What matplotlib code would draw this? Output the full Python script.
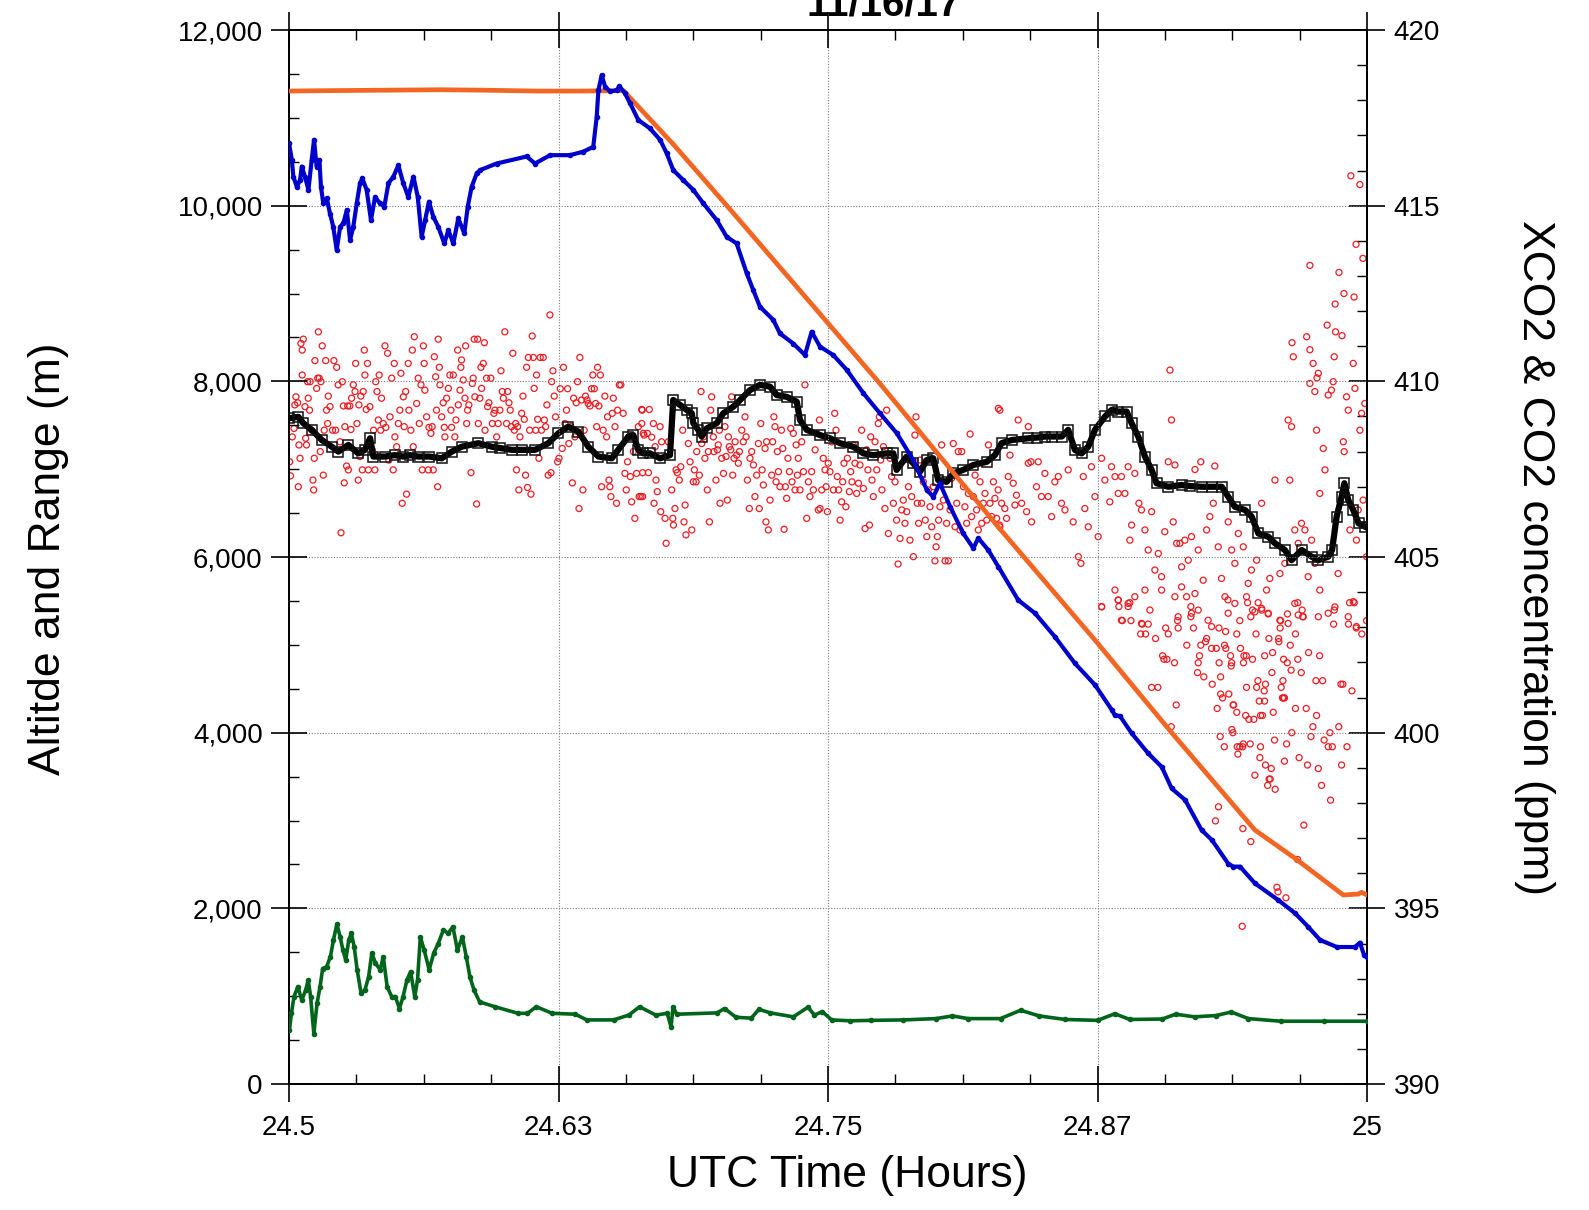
import matplotlib
matplotlib.use("Agg")
import matplotlib.pyplot as plt
from matplotlib.ticker import MultipleLocator, FuncFormatter

plt.rcParams['font.family'] = ['Liberation Sans', 'DejaVu Sans']

# aircraft altitude (orange), m
alt_t = [24.5, 24.52, 24.545, 24.57, 24.59, 24.615, 24.635, 24.6551, 24.6782, 24.7045,
         24.774, 24.8282, 24.8738, 24.9094, 24.948, 24.9666, 24.989, 24.9959, 24.9975, 25.0]
alt_m = [11305, 11310, 11315, 11320, 11315, 11305, 11305, 11310, 10700, 9960,
         7977, 6364, 5055, 4000, 2892, 2570, 2152, 2163, 2183, 2152]

# blue series, m
range_t = [24.5000, 24.5013, 24.5020, 24.5036, 24.5051, 24.5059, 24.5074, 24.5090, 24.5105, 24.5116,
           24.5128, 24.5141, 24.5148, 24.5159, 24.5175, 24.5190, 24.5205, 24.5221, 24.5237, 24.5252,
           24.5268, 24.5283, 24.5298, 24.5314, 24.5329, 24.5340, 24.5360, 24.5380, 24.5399, 24.5422,
           24.5442, 24.5461, 24.5484, 24.5507, 24.5530, 24.5553, 24.5577, 24.5597, 24.5615, 24.5631,
           24.5649, 24.5669, 24.5692, 24.5720, 24.5739, 24.5762, 24.5785, 24.5813, 24.5829, 24.5847,
           24.5871, 24.5886, 24.5963, 24.6102, 24.6141, 24.6211, 24.6303, 24.6365, 24.6411, 24.6427,
           24.6435, 24.6450, 24.6466, 24.6489, 24.6520, 24.6532, 24.6558, 24.6582, 24.6620, 24.6674,
           24.6721, 24.6752, 24.6782, 24.6829, 24.6875, 24.6922, 24.6984, 24.7030, 24.7076, 24.7123,
           24.7153, 24.7184, 24.7246, 24.7277, 24.7339, 24.7393, 24.7424, 24.7463, 24.7524, 24.7587,
           24.7664, 24.7741, 24.7819, 24.7895, 24.7958, 24.7988, 24.8019, 24.8066, 24.8127, 24.8174,
           24.8197, 24.8243, 24.8290, 24.8382, 24.8460, 24.8553, 24.8645, 24.8738, 24.8816, 24.8830,
           24.8854, 24.8908, 24.8985, 24.9048, 24.9094, 24.9156, 24.9233, 24.9280, 24.9356, 24.9380,
           24.9411, 24.9480, 24.9588, 24.9666, 24.9727, 24.9782, 24.9860, 24.9944, 24.9967, 24.9986,
           25.0000]
range_m = [10710, 10520, 10330, 10215, 10290, 10445, 10330, 10180, 10520, 10750,
           10445, 10520, 10215, 10025, 10085, 9910, 9760, 9495, 9760, 9800,
           9950, 9610, 9760, 10025, 10255, 10310, 10180, 9835, 10100, 10025,
           9990, 10255, 10330, 10460, 10255, 10100, 10330, 10100, 9645, 9835,
           10045, 9875, 9760, 9570, 9720, 9570, 9855, 9685, 9990, 10215,
           10370, 10405, 10480, 10560, 10480, 10575, 10575, 10615, 10670, 11010,
           11315, 11485, 11355, 11300, 11315, 11360, 11280, 11165, 10975, 10880,
           10750, 10595, 10405, 10290, 10180, 10025, 9835, 9645, 9570, 9230,
           9040, 8850, 8700, 8545, 8430, 8300, 8565, 8395, 8300, 8130,
           7865, 7635, 7410, 7105, 6765, 6685, 6840, 6575, 6270, 6100,
           6215, 6080, 5890, 5510, 5360, 5090, 4790, 4545, 4260, 4200,
           4190, 3995, 3765, 3610, 3365, 3235, 2890, 2780, 2510, 2475,
           2475, 2285, 2095, 1945, 1790, 1640, 1560, 1560, 1610, 1470,
           1445]

# green series, m
gnd_t = [24.5002, 24.5011, 24.5023, 24.5041, 24.5059, 24.5077, 24.5089, 24.5100, 24.5115, 24.5130,
         24.5144, 24.5156, 24.5174, 24.5192, 24.5206, 24.5222, 24.5237, 24.5250, 24.5263, 24.5277,
         24.5289, 24.5302, 24.5316, 24.5334, 24.5352, 24.5369, 24.5384, 24.5401, 24.5423, 24.5437,
         24.5455, 24.5476, 24.5493, 24.5512, 24.5529, 24.5547, 24.5564, 24.5583, 24.5596, 24.5609,
         24.5627, 24.5650, 24.5671, 24.5692, 24.5716, 24.5738, 24.5760, 24.5781, 24.5804, 24.5822,
         24.5839, 24.5858, 24.5884, 24.5955, 24.6062, 24.6106, 24.6147, 24.6221, 24.6328, 24.6381,
         24.6505, 24.6576, 24.6626, 24.6701, 24.6754, 24.6772, 24.6781, 24.6798, 24.6985, 24.7020,
         24.7073, 24.7144, 24.7179, 24.7233, 24.7339, 24.7407, 24.7437, 24.7473, 24.7517, 24.7602,
         24.770, 24.785, 24.800, 24.8077, 24.815, 24.830, 24.8393, 24.848, 24.860, 24.875,
         24.883, 24.890, 24.905, 24.9112, 24.920, 24.930, 24.937, 24.945, 24.960, 24.980,
         25.0]
gnd_m = [615, 805, 995, 1110, 955, 1070, 1185, 995, 575, 920,
         1110, 1315, 1335, 1450, 1640, 1820, 1675, 1525, 1410, 1640,
         1715, 1565, 1300, 1035, 1070, 1220, 1490, 1375, 1300, 1450,
         1110, 995, 995, 860, 995, 1185, 1280, 995, 1185, 1675,
         1525, 1300, 1490, 1600, 1755, 1715, 1790, 1525, 1675, 1450,
         1220, 1070, 935, 880, 805, 805, 880, 805, 795, 730,
         730, 785, 880, 785, 805, 650, 880, 795, 810, 860,
         760, 750, 850, 810, 765, 875, 785, 825, 730, 720,
         725, 730, 745, 775, 745, 745, 840, 775, 735, 725,
         800, 735, 740, 795, 765, 780, 820, 745, 715, 715,
         715]

# CO2 (black squares), ppm
co2_t = [24.5000, 24.5043, 24.5066, 24.5105, 24.5152, 24.5198, 24.5229, 24.5275, 24.5321, 24.5352,
         24.5376, 24.5391, 24.5445, 24.5490, 24.5530, 24.5560, 24.5600, 24.5650, 24.5708, 24.5755,
         24.5801, 24.5878, 24.5940, 24.5980, 24.6033, 24.6080, 24.6141, 24.6203, 24.6249, 24.6295,
         24.6342, 24.6388, 24.6435, 24.6497, 24.6527, 24.6574, 24.6597, 24.6620, 24.6643, 24.6674,
         24.6721, 24.6767, 24.6782, 24.6813, 24.6844, 24.6868, 24.6875, 24.6898, 24.6914, 24.6937,
         24.6984, 24.7014, 24.7061, 24.7092, 24.7138, 24.7184, 24.7231, 24.7262, 24.7308, 24.7355,
         24.7370, 24.7401, 24.7463, 24.7509, 24.7555, 24.7617, 24.7664, 24.7710, 24.7772, 24.7803,
         24.7818, 24.7865, 24.7895, 24.7927, 24.7958, 24.7988, 24.8011, 24.8050, 24.8081, 24.8127,
         24.8174, 24.8236, 24.8274, 24.8305, 24.8352, 24.8429, 24.8470, 24.8506, 24.8540, 24.8584,
         24.8614, 24.8645, 24.8676, 24.8707, 24.8738, 24.8785, 24.8816, 24.8846, 24.8885, 24.8908,
         24.8939, 24.8970, 24.9001, 24.9024, 24.9078, 24.9140, 24.9180, 24.9233, 24.9280, 24.9326,
         24.9356, 24.9387, 24.9434, 24.9465, 24.9496, 24.9542, 24.9573, 24.9619, 24.9650, 24.9697,
         24.9743, 24.9774, 24.9820, 24.9838, 24.9859, 24.9882, 24.9895, 24.9913, 24.9936, 24.9961,
         24.9992]
co2_ppm = [408.95, 408.99, 408.81, 408.62, 408.33, 408.14, 408.00, 408.19, 407.95, 408.05,
           408.38, 407.86, 407.86, 407.90, 407.86, 407.90, 407.86, 407.86, 407.81, 408.00,
           408.14, 408.24, 408.14, 408.10, 408.05, 408.05, 408.05, 408.24, 408.52, 408.71,
           408.57, 408.14, 407.86, 407.81, 408.05, 408.43, 408.47, 408.05, 407.95, 407.95,
           407.81, 407.90, 409.47, 409.33, 409.19, 409.09, 408.81, 408.62, 408.43, 408.66,
           408.81, 409.09, 409.28, 409.47, 409.75, 409.90, 409.85, 409.61, 409.56, 409.42,
           408.90, 408.62, 408.47, 408.38, 408.24, 408.14, 407.95, 407.90, 407.95, 407.95,
           407.48, 407.86, 407.67, 407.43, 407.76, 407.81, 407.19, 407.14, 407.38, 407.48,
           407.62, 407.71, 407.90, 408.24, 408.33, 408.38, 408.40, 408.43, 408.43, 408.43,
           408.62, 408.05, 407.95, 408.14, 408.62, 409.00, 409.19, 409.14, 409.14, 408.81,
           408.43, 407.86, 407.48, 407.10, 407.00, 407.05, 407.02, 407.00, 407.00, 407.00,
           406.72, 406.43, 406.34, 406.15, 405.67, 405.58, 405.39, 405.20, 404.91, 405.20,
           405.01, 404.91, 405.01, 405.20, 406.15, 406.72, 407.10, 406.62, 406.34, 405.96,
           405.86]

# XCO2 (red circles), ppm, read in four time blocks
xco2_t1 = [24.5003, 24.5007, 24.5015, 24.5023, 24.5027, 24.5032, 24.5040, 24.5043, 24.5046, 24.5051,
           24.5055, 24.5061, 24.5061, 24.5066, 24.5074, 24.5077, 24.5081, 24.5086, 24.5089, 24.5095,
           24.5098, 24.5105, 24.5111, 24.5114, 24.5117, 24.5120, 24.5128, 24.5133, 24.5136, 24.5140,
           24.5145, 24.5148, 24.5154, 24.5159, 24.5163, 24.5170, 24.5174, 24.5179, 24.5182, 24.5190,
           24.5202, 24.5208, 24.5216, 24.5221, 24.5228, 24.5236, 24.5241, 24.5247, 24.5252, 24.5256,
           24.5259, 24.5267, 24.5272, 24.5275, 24.5282, 24.5287, 24.5290, 24.5298, 24.5306, 24.5309,
           24.5315, 24.5321, 24.5324, 24.5329, 24.5333, 24.5340, 24.5344, 24.5349, 24.5352, 24.5358,
           24.5364, 24.5368, 24.5375, 24.5386, 24.5392, 24.5398, 24.5402, 24.5408, 24.5414, 24.5418,
           24.5425, 24.5429, 24.5437, 24.5445, 24.5449, 24.5457, 24.5463, 24.5468, 24.5476, 24.5483,
           24.5488, 24.5491, 24.5499, 24.5507, 24.5514, 24.5519, 24.5525, 24.5530, 24.5534, 24.5541,
           24.5545, 24.5553, 24.5556, 24.5565, 24.5572, 24.5576, 24.5581, 24.5592, 24.5599, 24.5604,
           24.5612, 24.5618, 24.5623, 24.5627, 24.5630, 24.5638, 24.5646, 24.5649, 24.5658, 24.5664,
           24.5669, 24.5674, 24.5680, 24.5684, 24.5689, 24.5692, 24.5697, 24.5700, 24.5708, 24.5715,
           24.5720, 24.5723, 24.5731, 24.5739, 24.5746, 24.5751, 24.5754, 24.5762, 24.5769, 24.5774,
           24.5782, 24.5785, 24.5793, 24.5797, 24.5800, 24.5808, 24.5816, 24.5819, 24.5824, 24.5828,
           24.5834, 24.5844, 24.5850, 24.5854, 24.5859, 24.5862, 24.5870, 24.5875, 24.5878, 24.5885,
           24.5890, 24.5893, 24.5901, 24.5906, 24.5909, 24.5916, 24.5921, 24.5927, 24.5936, 24.5943,
           24.5950, 24.5955, 24.5963, 24.5970, 24.5978, 24.5983, 24.5989, 24.5994, 24.6001, 24.6009,
           24.6014, 24.6020, 24.6026, 24.6032, 24.6038, 24.6045, 24.6051, 24.6055, 24.6060, 24.6066,
           24.6071, 24.6079, 24.6085, 24.6091, 24.6097, 24.6102, 24.6106, 24.6110, 24.6116, 24.6122,
           24.6128, 24.6133, 24.6137, 24.6144, 24.6148, 24.6153, 24.6159, 24.6165, 24.6171, 24.6179,
           24.6184, 24.6190, 24.6196, 24.6202, 24.6210, 24.6215, 24.6218, 24.6224, 24.6230, 24.6236,
           24.6246, 24.6252, 24.6258, 24.6267, 24.6273, 24.6280, 24.6287, 24.6292, 24.6298, 24.6307,
           24.6314, 24.6320, 24.6326, 24.6332, 24.6338, 24.6345, 24.6349, 24.6357, 24.6363, 24.6369,
           24.6375, 24.6382, 24.6388, 24.6396, 24.6403, 24.6409, 24.6416, 24.6422, 24.6427, 24.6431,
           24.6437, 24.6444, 24.6450, 24.6457, 24.6465, 24.6473, 24.6477, 24.6484, 24.6488, 24.6493,
           24.6499, 24.6504, 24.6512, 24.6519, 24.6524, 24.6532, 24.6539, 24.6550, 24.6558, 24.6564,
           24.6570, 24.6576, 24.6583, 24.6589, 24.6597, 24.6604, 24.6612, 24.6620, 24.6624, 24.6632,
           24.6638, 24.6643]
xco2_p1 = [407.71, 407.31, 408.42, 408.66, 409.33, 409.56, 409.39, 407.00, 408.19, 407.81,
           411.08, 410.18, 410.89, 411.20, 409.28, 408.38, 408.19, 409.99, 409.52, 409.18,
           409.99, 408.61, 407.19, 406.91, 407.81, 410.59, 409.80, 410.09, 411.41, 410.09,
           408.00, 409.99, 411.01, 407.33, 408.61, 410.59, 409.18, 408.80, 409.58, 409.28,
           408.61, 410.59, 408.61, 410.40, 409.90, 408.28, 405.69, 409.99, 409.30, 407.11,
           408.71, 407.59, 409.30, 407.48, 409.30, 408.63, 409.52, 409.90, 409.71, 410.51,
           408.80, 407.19, 409.33, 407.86, 409.58, 407.48, 409.71, 410.89, 410.18, 409.20,
           410.51, 407.48, 409.28, 408.05, 408.61, 407.48, 409.99, 409.71, 408.90, 410.18,
           408.61, 409.52, 408.80, 411.01, 408.69, 410.80, 407.76, 408.99, 410.09, 407.48,
           410.51, 408.42, 408.14, 408.80, 409.18, 410.23, 406.53, 409.56, 408.71, 409.71,
           406.79, 410.51, 409.18, 408.61, 410.89, 408.14, 411.27, 409.37, 410.09, 408.80,
           409.90, 407.48, 411.01, 410.51, 409.75, 408.99, 407.48, 408.69, 408.52, 408.71,
           407.48, 410.70, 410.13, 409.18, 407.00, 411.20, 410.40, 409.90, 408.99, 409.39,
           408.69, 408.42, 409.52, 409.80, 410.18, 409.18, 408.69, 410.18, 408.42, 408.90,
           410.89, 409.33, 409.75, 410.40, 410.61, 410.04, 409.52, 411.01, 408.80, 409.18,
           409.33, 407.40, 409.94, 410.09, 411.20, 409.56, 406.51, 411.20, 408.80, 409.52,
           410.40, 409.80, 410.51, 411.10, 408.61, 410.09, 409.28, 409.39, 410.09, 408.80,
           409.09, 409.18, 408.42, 408.80, 409.18, 410.30, 409.71, 409.52, 411.41, 408.80,
           409.71, 409.39, 409.18, 408.71, 410.80, 408.61, 408.80, 407.48, 408.71, 406.91,
           408.42, 409.09, 409.58, 408.92, 407.33, 410.40, 406.98, 410.68, 408.61, 406.79,
           411.29, 410.68, 409.80, 408.61, 410.18, 408.92, 407.81, 410.68, 408.61, 410.68,
           408.90, 408.71, 409.33, 407.33, 411.89, 407.40, 409.99, 410.30, 409.58, 408.99,
           407.71, 407.81, 409.79, 408.09, 410.40, 408.80, 409.18, 409.79, 408.23, 408.71,
           407.11, 409.52, 408.42, 409.39, 409.99, 406.38, 410.68, 409.47, 406.91, 408.61,
           409.58, 409.47, 409.37, 409.30, 409.79, 410.18, 409.79, 409.37, 408.71, 410.40,
           409.30, 410.18, 407.00, 408.61, 409.58, 408.42, 408.99, 407.19, 407.00, 406.72,
           409.09, 409.52, 408.71, 406.53, 409.18, 409.90, 409.90, 409.09, 407.38, 406.91,
           407.71, 408.42, 407.29, 406.57, 408.00, 406.10, 407.38, 408.71, 406.72, 406.72,
           409.18, 408.52]

xco2_t2 = [24.6636, 24.6671, 24.6636, 24.6662, 24.6690, 24.6647, 24.6682, 24.6640, 24.6667, 24.6698,
           24.6702, 24.6721, 24.6728, 24.6708, 24.6693, 24.6640, 24.6724, 24.6744, 24.6749, 24.6759,
           24.6775, 24.6780, 24.6783, 24.6790, 24.6795, 24.6801, 24.6810, 24.6817, 24.6826, 24.6832,
           24.6837, 24.6841, 24.6852, 24.6860, 24.6868, 24.6875, 24.6880, 24.6888, 24.6891, 24.6903,
           24.6911, 24.6914, 24.6922, 24.6929, 24.6940, 24.6945, 24.6950, 24.6956, 24.6960, 24.6968,
           24.6971, 24.6980, 24.6987, 24.6991, 24.6996, 24.6999, 24.7007, 24.7015, 24.7022, 24.7027,
           24.7033, 24.7038, 24.7042, 24.7049, 24.7053, 24.7058, 24.7064, 24.7069, 24.7076, 24.7084,
           24.7089, 24.7100, 24.7107, 24.7115, 24.7120, 24.7126, 24.7135, 24.7138, 24.7146, 24.7154,
           24.7161, 24.7169, 24.7177, 24.7181, 24.7188, 24.7194, 24.7200, 24.7208, 24.7212, 24.7215,
           24.7223, 24.7231, 24.7239, 24.7243, 24.7249, 24.7254, 24.7259, 24.7265, 24.7270, 24.7277,
           24.7284, 24.7290, 24.7296, 24.7302, 24.7308, 24.7314, 24.7321, 24.7327, 24.7333, 24.7339,
           24.7347, 24.7352, 24.7358, 24.7362, 24.7370, 24.7378, 24.7386, 24.7393, 24.7401, 24.7409,
           24.7416, 24.7424, 24.7432, 24.7440, 24.7447, 24.7455, 24.7460, 24.7463, 24.7471, 24.7478,
           24.7486, 24.7491, 24.7497, 24.7501, 24.7509, 24.7517, 24.7525, 24.7531, 24.7537, 24.7543,
           24.7549, 24.7556, 24.7563, 24.7568, 24.7574, 24.7583, 24.7590, 24.7599, 24.7605, 24.7611,
           24.7617, 24.7625, 24.7633, 24.7641, 24.7648, 24.7656, 24.7664, 24.7672, 24.7679, 24.7685,
           24.7692, 24.7698, 24.7704, 24.7710, 24.7718, 24.7726, 24.7733, 24.7738, 24.7744, 24.7750,
           24.7757, 24.7764, 24.7772, 24.7780, 24.7788, 24.7795, 24.7803, 24.7811, 24.7818, 24.7825,
           24.7834, 24.7842, 24.7849, 24.7857, 24.7865, 24.7873, 24.7880, 24.7888, 24.7896, 24.7903,
           24.7908, 24.7914, 24.7920, 24.7927, 24.7934, 24.7942, 24.7951, 24.7958, 24.7965, 24.7973,
           24.7981, 24.7988, 24.7996, 24.8001, 24.8007, 24.8013, 24.8019, 24.8027, 24.8035, 24.8043,
           24.8050, 24.8058, 24.8066, 24.8073, 24.8081, 24.8089, 24.8097, 24.8104, 24.8112, 24.8120,
           24.8128, 24.8135, 24.8143, 24.8151, 24.8159, 24.8166, 24.8174, 24.8182, 24.8189, 24.8197,
           24.8205, 24.8213, 24.8220, 24.8228, 24.8236, 24.8244, 24.8251, 24.8259, 24.8267, 24.8274,
           24.8282, 24.8290, 24.8295]
xco2_p2 = [409.20, 409.20, 408.80, 408.52, 408.80, 408.47, 408.41, 407.40, 407.40, 408.14,
           407.19, 408.71, 408.28, 406.86, 406.53, 406.72, 406.29, 406.10, 405.39, 408.28,
           406.91, 406.10, 405.91, 406.38, 407.48, 407.40, 407.19, 407.57, 408.61, 406.00,
           406.48, 405.63, 408.23, 407.71, 405.77, 407.14, 407.48, 407.14, 408.00, 407.33,
           409.71, 408.23, 408.42, 407.81, 406.91, 408.00, 406.00, 409.18, 409.56, 408.42,
           408.00, 407.19, 408.05, 408.19, 408.61, 406.53, 407.81, 407.38, 408.71, 407.86,
           406.62, 408.42, 408.14, 408.05, 409.56, 407.33, 407.81, 408.28, 407.90, 407.67,
           408.00, 408.61, 408.28, 408.99, 408.42, 407.19, 406.38, 407.81, 408.00, 407.62,
           406.72, 407.33, 408.23, 406.38, 408.80, 407.48, 407.05, 408.09, 406.00, 408.28,
           405.77, 406.62, 407.33, 408.28, 408.99, 408.71, 407.14, 408.00, 407.43, 407.00,
           408.61, 408.09, 405.79, 407.00, 406.67, 407.81, 407.43, 408.66, 407.14, 408.52,
           406.91, 408.19, 407.33, 407.81, 406.91, 408.28, 407.43, 409.90, 406.10, 407.14,
           406.72, 407.43, 406.91, 408.05, 408.52, 406.34, 408.90, 406.38, 406.91, 407.81,
           407.48, 407.00, 406.29, 407.67, 407.43, 408.28, 406.91, 409.09, 408.61, 407.29,
           406.91, 406.05, 406.57, 407.14, 407.67, 406.43, 407.81, 406.86, 407.43, 407.14,
           408.19, 407.67, 406.81, 407.10, 407.62, 408.61, 406.95, 405.81, 408.05, 407.48,
           405.91, 408.42, 407.19, 406.72, 408.28, 407.48, 408.80, 408.99, 407.76, 406.91,
           408.14, 406.38, 409.18, 405.67, 407.81, 407.29, 406.53, 407.14, 406.05, 404.80,
           405.53, 406.34, 406.62, 405.96, 406.29, 407.00, 405.48, 406.72, 405.01, 408.47,
           408.99, 406.53, 405.96, 407.76, 406.53, 407.14, 406.05, 405.58, 406.91, 406.43,
           405.86, 407.00, 404.89, 405.29, 405.58, 406.05, 406.43, 408.19, 406.62, 404.89,
           405.96, 404.89, 406.34, 407.24, 408.23, 405.86, 406.53, 408.00, 405.77, 408.00,
           407.00, 406.43, 405.96, 406.81, 408.50, 406.15, 406.72, 407.33, 406.34, 405.77,
           407.14, 405.96, 406.53, 406.81, 406.05, 408.19, 406.53, 406.15, 407.14, 406.67,
           406.10, 409.23, 405.91]

xco2_t3 = [24.8297, 24.8382, 24.8429, 24.8344, 24.8289, 24.8305, 24.8336, 24.8359, 24.8374, 24.8320,
           24.8297, 24.8328, 24.8367, 24.8398, 24.8421, 24.8444, 24.8467, 24.8490, 24.8429, 24.8441,
           24.8475, 24.8506, 24.8521, 24.8537, 24.8552, 24.8568, 24.8583, 24.8599, 24.8614, 24.8637,
           24.8661, 24.8673, 24.8684, 24.8691, 24.8707, 24.8722, 24.8738, 24.8753, 24.8769, 24.8784,
           24.8807, 24.8815, 24.8831, 24.8846, 24.8861, 24.8877, 24.8892, 24.8900, 24.8908, 24.8923,
           24.8942, 24.8954, 24.8970, 24.8985, 24.9001, 24.9016, 24.9032, 24.9047, 24.9062, 24.9078,
           24.9086, 24.9093, 24.9101, 24.9109, 24.9117, 24.9132, 24.9140, 24.9155, 24.9171, 24.9186,
           24.9202, 24.9217, 24.9229, 24.9240, 24.9256, 24.9271, 24.9287, 24.9294, 24.9310, 24.9325,
           24.9341, 24.9356, 24.9372, 24.9387, 24.9403, 24.9426, 24.9449, 24.9464, 24.9488, 24.9511,
           24.9534, 24.9549, 24.9573, 24.9596, 24.9619, 24.9634, 24.9642, 24.9650, 24.9658, 24.9665,
           24.9681, 24.9696, 24.9712, 24.9720, 24.9735, 24.9743, 24.9750, 24.9758, 24.9766, 24.9774,
           24.9781, 24.9797, 24.9805, 24.9820, 24.9835, 24.9843, 24.9848, 24.9854, 24.9890, 24.9894,
           24.9905, 24.9913, 24.9921, 24.9936, 24.9944, 24.9951, 24.9959, 24.9967, 24.9975, 24.9982,
           24.9990, 24.9998, 24.9758, 24.9781, 24.9820, 24.9866, 24.9913, 24.9727, 24.9851, 24.9774,
           24.9263, 24.9202, 24.9047, 24.9124, 24.8970, 24.8861, 24.8954, 24.8923, 24.8892, 24.8769,
           24.8831, 24.8846, 24.9109, 24.9140, 24.9163, 24.9186, 24.9217, 24.9279, 24.9356, 24.9387,
           24.9441, 24.9480, 24.9511, 24.9542, 24.9596, 24.9634, 24.9665, 24.9681, 24.9704, 24.9936,
           24.9951]
xco2_p3 = [409.18, 408.90, 408.71, 407.90, 406.91, 406.53, 407.29, 407.10, 406.76, 406.38,
           405.86, 406.10, 406.48, 406.53, 406.29, 406.00, 407.00, 406.72, 407.67, 407.71,
           407.71, 407.38, 406.72, 406.15, 407.14, 407.29, 406.53, 406.34, 407.48, 406.00,
           405.01, 404.82, 407.29, 406.38, 405.86, 407.57, 406.72, 405.58, 407.81, 407.19,
           406.57, 407.57, 407.29, 406.81, 407.29, 406.81, 407.57, 405.48, 405.91, 407.38,
           406.53, 406.34, 405.77, 405.20, 406.29, 404.63, 405.10, 404.44, 405.72, 407.71,
           410.32, 408.90, 406.00, 407.62, 405.39, 405.39, 404.72, 405.48, 404.91, 405.58,
           407.49, 405.20, 407.71, 404.34, 405.77, 406.15, 406.53, 407.59, 405.29, 404.39,
           403.87, 406.00, 405.20, 404.82, 405.67, 405.29, 404.25, 404.63, 404.91, 406.53,
           404.06, 404.39, 407.19, 404.53, 404.82, 408.90, 407.19, 408.71, 410.70, 405.77,
           405.39, 405.96, 405.77, 411.27, 409.94, 405.48, 410.51, 409.71, 408.61, 410.23,
           406.81, 408.09, 407.48, 409.61, 409.75, 409.99, 410.70, 411.41, 408.28, 408.00,
           409.56, 409.18, 405.77, 410.51, 409.80, 405.48, 406.34, 408.61, 409.09, 406.62,
           409.37, 405.01, 404.82, 404.06, 403.40, 404.53, 403.30, 404.44, 403.58, 403.30,
           403.20, 403.96, 404.06, 403.30, 404.06, 403.20, 403.11, 403.87, 403.68, 403.58,
           404.06, 403.77, 403.87, 404.15, 403.87, 403.40, 403.49, 403.02, 403.40, 403.68,
           403.87, 403.44, 403.54, 403.40, 403.20, 403.11, 403.68, 403.35, 403.30, 403.73,
           403.02]

xco2_t4 = [24.8769, 24.8846, 24.8849, 24.8892, 24.8900, 24.8865, 24.8905, 24.8957, 24.8985, 24.8993,
           24.8950, 24.8973, 24.9019, 24.9066, 24.9078, 24.9121, 24.9124, 24.9183, 24.9183, 24.9195,
           24.9164, 24.9229, 24.9251, 24.9256, 24.9279, 24.9301, 24.9313, 24.9344, 24.9339, 24.9345,
           24.9355, 24.9396, 24.9410, 24.9413, 24.9446, 24.9461, 24.9469, 24.9485, 24.9495, 24.9512,
           24.9542, 24.9545, 24.9590, 24.9591, 24.9597, 24.9599, 24.9631, 24.9644, 24.9668, 24.9679,
           24.9699, 24.9702, 24.9729, 24.9780, 24.9848, 24.9845, 24.9914, 24.9919, 24.9941, 24.9950,
           24.9976, 24.9998, 24.9052, 24.9058, 24.9072, 24.9107, 24.9217, 24.9214, 24.9223, 24.9243,
           24.9282, 24.9314, 24.9321, 24.9367, 24.9372, 24.9370, 24.9427, 24.9429, 24.9440, 24.9469,
           24.9525, 24.9562, 24.9559, 24.9613, 24.9630, 24.9648, 24.9679, 24.9695, 24.9763, 24.9001,
           24.9030, 24.9115, 24.9305, 24.9321, 24.9330, 24.9359, 24.9379, 24.9381, 24.9396, 24.9437,
           24.9441, 24.9452, 24.9475, 24.9488, 24.9494, 24.9500, 24.9523, 24.9525, 24.9529, 24.9506,
           24.9515, 24.9565, 24.9602, 24.9610, 24.9608, 24.9617, 24.9613, 24.9668, 24.9718, 24.9766,
           24.9749, 24.9869, 24.9828, 24.9930, 24.9879, 24.9888, 24.9794, 24.9092, 24.9319, 24.9338,
           24.9378, 24.9373, 24.9398, 24.9410, 24.9423, 24.9401, 24.9426, 24.9458, 24.9506, 24.9503,
           24.9529, 24.9556, 24.9571, 24.9617, 24.9627, 24.9651, 24.9685, 24.9724, 24.9774, 24.9801,
           24.9820, 24.9839, 24.9882, 24.9907, 24.9740, 24.9480, 24.9546, 24.9551, 24.9539, 24.9574,
           24.9789, 24.9831, 24.9311, 24.9297, 24.9424, 24.9461, 24.9707, 24.9678, 24.9582, 24.9587,
           24.9624, 24.9421,
           24.9925, 24.9967, 24.9949, 24.9981, 24.9735, 24.9870, 24.9893, 24.9852, 24.9815, 24.9884,
           24.9652, 24.9735, 24.9940, 24.9768]
xco2_p4 = [403.59, 403.78, 403.59, 403.59, 403.70, 403.19, 403.19, 403.09, 403.09, 403.49,
           402.81, 402.81, 402.68, 402.98, 402.81, 403.19, 402.98, 403.59, 403.30, 402.98,
           402.49, 402.49, 402.59, 402.68, 402.40, 402.40, 402.98, 402.88, 402.49, 402.40,
           403.78, 402.81, 403.19, 402.40, 403.70, 403.30, 403.49, 402.81, 403.70, 403.49,
           403.38, 402.68, 402.68, 402.59, 402.98, 403.19, 403.38, 402.49, 402.81, 403.70,
           403.49, 403.30, 402.28, 402.19, 403.49, 403.09, 403.09, 403.70, 403.70, 402.98,
           402.81, 403.19, 402.19, 402.09, 402.09, 401.99, 401.99, 401.71, 402.19, 401.59,
           401.38, 401.99, 401.59, 402.19, 401.99, 401.90, 401.99, 402.19, 402.19, 402.09,
           402.19, 402.28, 401.71, 402.09, 401.99, 401.78, 402.09, 401.71, 401.48, 401.29,
           401.29, 400.79, 400.69, 401.10, 400.99, 401.10, 400.79, 400.79, 400.58, 400.49,
           401.29, 400.38, 400.38, 401.29, 401.48, 400.90, 401.19, 400.90, 401.38, 400.49,
           400.49, 400.58, 401.29, 401.48, 400.99, 400.99, 400.99, 400.69, 400.69, 400.49,
           400.17, 400.17, 400.00, 401.19, 401.38, 401.38, 401.48, 400.17, 399.89, 399.60,
           400.00, 400.09, 399.60, 399.60, 399.60, 399.39, 399.68, 399.68, 399.60, 399.29,
           399.08, 398.98, 399.79, 399.19, 399.68, 400.00, 399.29, 399.08, 398.98, 399.79,
           399.60, 399.60, 399.08, 399.60, 399.89, 398.79, 398.68, 398.68, 398.50, 398.39,
           398.50, 398.08, 397.89, 397.49, 397.27, 396.90, 397.37, 396.39, 395.60, 395.47,
           395.30, 394.49,
           415.85, 415.60, 413.90, 413.50, 413.30, 413.10, 412.50, 412.20, 411.60, 411.30,
           411.10, 410.90, 412.40, 410.10]

xco2_t = xco2_t1 + xco2_t2 + xco2_t3 + xco2_t4
xco2_ppm = xco2_p1 + xco2_p2 + xco2_p3 + xco2_p4

x_ticks = [24.5, 24.625, 24.75, 24.875, 25.0]
x_labels = ['24.5', '24.63', '24.75', '24.87', '25']

fig = plt.figure(figsize=(15.89, 12.10), dpi=100)
ax = fig.add_axes([0.1819, 0.1041, 0.6784, 0.8711])
ax2 = ax.twinx()
ax.set_zorder(ax2.get_zorder() + 1)
ax.patch.set_visible(False)

# right axis: CO2 data
ax2.scatter(xco2_t, xco2_ppm, s=19, facecolors='none', edgecolors='#ec1c22', linewidths=0.9, zorder=2)
ax2.plot(co2_t, co2_ppm, color='black', lw=4.5, marker='s', ms=7, mfc='none', mec='#111111', mew=1.1, zorder=3)

# left axis: altitudes
ax.plot(alt_t, alt_m, color='#f26522', lw=3.4, zorder=3)
ax.plot(range_t, range_m, color='#0000cc', lw=3.0, marker='o', ms=3, zorder=4)
ax.plot(gnd_t, gnd_m, color='#00641a', lw=2.6, marker='o', ms=3, zorder=4)

ax.set_xlim(24.5, 25.0)
ax.set_ylim(0, 12000)
ax2.set_ylim(390, 420)

ax.set_xticks(x_ticks)
ax.set_xticklabels(x_labels)
ax.xaxis.set_minor_locator(MultipleLocator(0.03125))
ax.set_yticks(range(0, 12001, 2000))
ax.yaxis.set_major_formatter(FuncFormatter(lambda v, p: f'{int(v):,}'))
ax.yaxis.set_minor_locator(MultipleLocator(500))
ax2.set_yticks(range(390, 421, 5))
ax2.yaxis.set_minor_locator(MultipleLocator(1))

for a in (ax, ax2):
    a.tick_params(which='major', direction='inout', length=26, width=1.2, labelsize=20, pad=6)
    a.tick_params(which='minor', direction='in', length=7, width=1.0)
    for s in a.spines.values():
        s.set_linewidth(1.3)
ax.tick_params(axis='x', which='major', pad=9)
ax.tick_params(axis='x', which='both', top=True, labeltop=False)
ax.tick_params(axis='y', which='both', right=False)

ax.grid(True, which='major', color='#7a7a7a', linestyle=(0, (1, 1.5)), linewidth=0.8)

fig.text(884 / 1589, 1 - 15 / 1210, '11/16/17', ha='center', va='baseline', fontsize=29, fontweight='bold')
fig.text(847 / 1589, 1 - 1175 / 1210, 'UTC Time (Hours)', ha='center', va='center', fontsize=32)
fig.text(49 / 1589, 1 - 559 / 1210, 'Altitde and Range (m)', rotation=90, ha='center', va='center', fontsize=32)
fig.text(1535 / 1589, 1 - 557 / 1210, 'XCO2 & CO2 concentration (ppm)', rotation=-90,
         ha='center', va='center', fontsize=32)

fig.savefig('out.png', dpi=100)
